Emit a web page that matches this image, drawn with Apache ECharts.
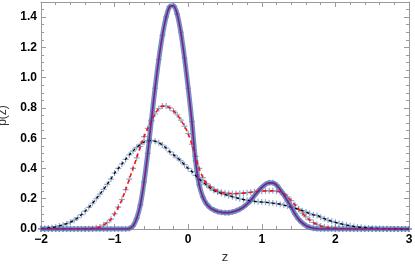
<!DOCTYPE html>
<html><head><meta charset="utf-8">
<script src="https://cdn.jsdelivr.net/npm/echarts@6/dist/echarts.min.js"></script>
<style>html,body{margin:0;padding:0;background:#fff}#c{width:415px;height:264px}</style>
</head><body><div id="c"></div>
<script>
const zValues = [-2.00,-1.95,-1.90,-1.85,-1.80,-1.75,-1.70,-1.65,-1.60,-1.55,-1.50,-1.45,-1.40,-1.35,-1.30,-1.25,-1.20,-1.15,-1.10,-1.05,
 -1.00,-0.95,-0.90,-0.85,-0.80,-0.75,-0.70,-0.65,-0.60,-0.55,-0.50,-0.45,-0.40,-0.35,-0.30,-0.25,-0.20,-0.15,-0.10,-0.05,
 0.00,0.05,0.10,0.15,0.20,0.25,0.30,0.35,0.40,0.45,0.50,0.55,0.60,0.65,0.70,0.75,0.80,0.85,0.90,0.95,
 1.00,1.05,1.10,1.15,1.20,1.25,1.30,1.35,1.40,1.45,1.50,1.55,1.60,1.65,1.70,1.75,1.80,1.85,1.90,1.95,
 2.00,2.05,2.10,2.15,2.20,2.25,2.30,2.35,2.40,2.45,2.50,2.55,2.60,2.65,2.70,2.75,2.80,2.85,2.90,2.95,3.00];

// narrow, tall distribution (purple solid)
const pNarrow = [0,0,0,0,0,0,0,0,0,0,0,0,0,0,0,0,0,0,0,0,
 0,0,0,0,0.003,0.02,0.07,0.16,0.31,0.50,0.72,0.93,1.12,1.28,1.40,1.47,1.475,1.42,1.30,1.13,
 0.93,0.71,0.45,0.29,0.21,0.165,0.14,0.125,0.115,0.11,0.108,0.108,0.112,0.12,0.13,0.145,0.165,0.19,0.22,0.25,
 0.275,0.295,0.305,0.305,0.29,0.26,0.225,0.185,0.145,0.10,0.065,0.04,0.022,0.011,0.005,0.002,0,0,0,0,
 0,0,0,0,0,0,0,0,0,0,0,0,0,0,0,0,0,0,0,0,0];

// intermediate distribution (red dashed)
const pMid = [0,0,0,0,0,0,0,0,0,0,0,0,0,0.002,0.004,0.008,0.014,0.026,0.042,0.065,
 0.10,0.145,0.195,0.26,0.33,0.40,0.47,0.545,0.61,0.665,0.715,0.76,0.795,0.812,0.812,0.80,0.78,0.755,0.72,0.68,
 0.63,0.56,0.48,0.40,0.34,0.30,0.28,0.262,0.25,0.243,0.238,0.235,0.234,0.234,0.235,0.237,0.24,0.243,0.246,0.248,
 0.25,0.252,0.252,0.252,0.25,0.245,0.232,0.212,0.188,0.16,0.132,0.105,0.08,0.06,0.043,0.03,0.02,0.013,0.009,0.006,
 0.004,0.002,0.001,0,0,0,0,0,0,0,0,0,0,0,0,0,0,0,0,0,0];

// wide distribution (black dashed)
const pWide = [0.003,0.005,0.007,0.01,0.014,0.02,0.027,0.035,0.045,0.058,0.075,0.095,0.118,0.143,0.17,0.20,0.23,0.262,0.295,0.33,
 0.37,0.40,0.43,0.46,0.49,0.515,0.54,0.56,0.575,0.583,0.585,0.58,0.57,0.555,0.535,0.51,0.49,0.47,0.45,0.425,
 0.40,0.38,0.355,0.33,0.31,0.29,0.27,0.255,0.245,0.235,0.228,0.22,0.213,0.207,0.20,0.195,0.19,0.186,0.183,0.18,
 0.178,0.176,0.174,0.171,0.168,0.164,0.158,0.152,0.145,0.138,0.13,0.121,0.112,0.102,0.093,0.09,0.078,0.068,0.059,0.051,
 0.044,0.037,0.031,0.026,0.021,0.017,0.014,0.011,0.009,0.007,0.005,0.004,0.003,0.002,0.001,0,0,0,0,0,0];

const xTicks = [-2,-1,0,1,2,3];
const yTicks = [0,0.2,0.4,0.6,0.8,1.0,1.2,1.4];

const pair = arr => zValues.map((z,i)=>[z,arr[i]]);
const blue = 'rgba(94,129,181,0.85)';
const plus = 'path://M4,0H6V4H10V6H6V10H4V6H0V4H4Z';
const axisCol = '#9a9a9a';
const lblFont = {fontFamily:'Liberation Sans', fontWeight:'bold', fontSize:12, color:'#000'};

const chart = echarts.init(document.getElementById('c'), null, {renderer:'canvas'});
const xBase = {type:'value', min:-2, max:3, interval:1,
  axisLine:{show:true, onZero:false, lineStyle:{color:axisCol}},
  axisTick:{show:true, inside:true, length:5, lineStyle:{color:axisCol}},
  minorTick:{show:true, splitNumber:5, length:3, lineStyle:{color:axisCol}},
  splitLine:{show:false}};
const yBase = {type:'value', min:0, max:1.5, interval:0.2,
  axisLine:{show:true, onZero:false, lineStyle:{color:axisCol}},
  axisTick:{show:true, inside:true, length:5, lineStyle:{color:axisCol}},
  minorTick:{show:true, splitNumber:4, length:3, lineStyle:{color:axisCol}},
  splitLine:{show:false}};
chart.setOption({
  animation:false,
  grid:{left:41, right:6, top:2, bottom:35, containLabel:false, outerBoundsMode:'none'},
  xAxis:[
    Object.assign({}, xBase, {position:'bottom',
      name:'z', nameLocation:'middle', nameGap:20,
      nameTextStyle:{fontFamily:'Liberation Sans', fontSize:13, color:'#333'},
      axisLabel:Object.assign({margin:5, formatter:v=> xTicks.includes(v) ? (v<0?'\u2212'+Math.abs(v):String(v)) : ''}, lblFont)}),
    Object.assign({}, xBase, {position:'top', axisLabel:{show:false}})
  ],
  yAxis:[
    Object.assign({}, yBase, {position:'left',
      name:'p(z)', nameLocation:'middle', nameGap:32, nameRotate:90,
      nameTextStyle:{fontFamily:'Liberation Sans', fontSize:12, color:'#333'},
      axisLabel:Object.assign({margin:4, showMaxLabel:false,
        formatter:v=> yTicks.some(t=>Math.abs(t-v)<1e-9) ? v.toFixed(1) : ''}, lblFont)}),
    Object.assign({}, yBase, {position:'right', axisLabel:{show:false}})
  ],
  series:[
    {type:'line', data:pair(pNarrow), showSymbol:false, smooth:0.3, z:2,
      lineStyle:{color:blue, width:5}},
    {type:'scatter', data:pair(pWide), symbol:plus, symbolSize:6, z:3,
      itemStyle:{color:blue}},
    {type:'scatter', data:pair(pMid), symbol:plus, symbolSize:6, z:3,
      itemStyle:{color:blue}},
    {type:'scatter', data:pair(pNarrow), symbol:plus, symbolSize:6, z:3,
      itemStyle:{color:blue}},
    {type:'line', data:pair(pWide), showSymbol:false, smooth:0.3, z:4,
      lineStyle:{color:'#000', width:1.3, type:[3,3]}},
    {type:'line', data:pair(pMid), showSymbol:false, smooth:0.3, z:4,
      lineStyle:{color:'#ff1010', width:1.6, type:[4,3]}},
    {type:'line', data:pair(pNarrow), showSymbol:false, smooth:0.3, z:5,
      lineStyle:{color:'#7b1e8e', width:1.6}}
  ]
});
</script></body></html>
